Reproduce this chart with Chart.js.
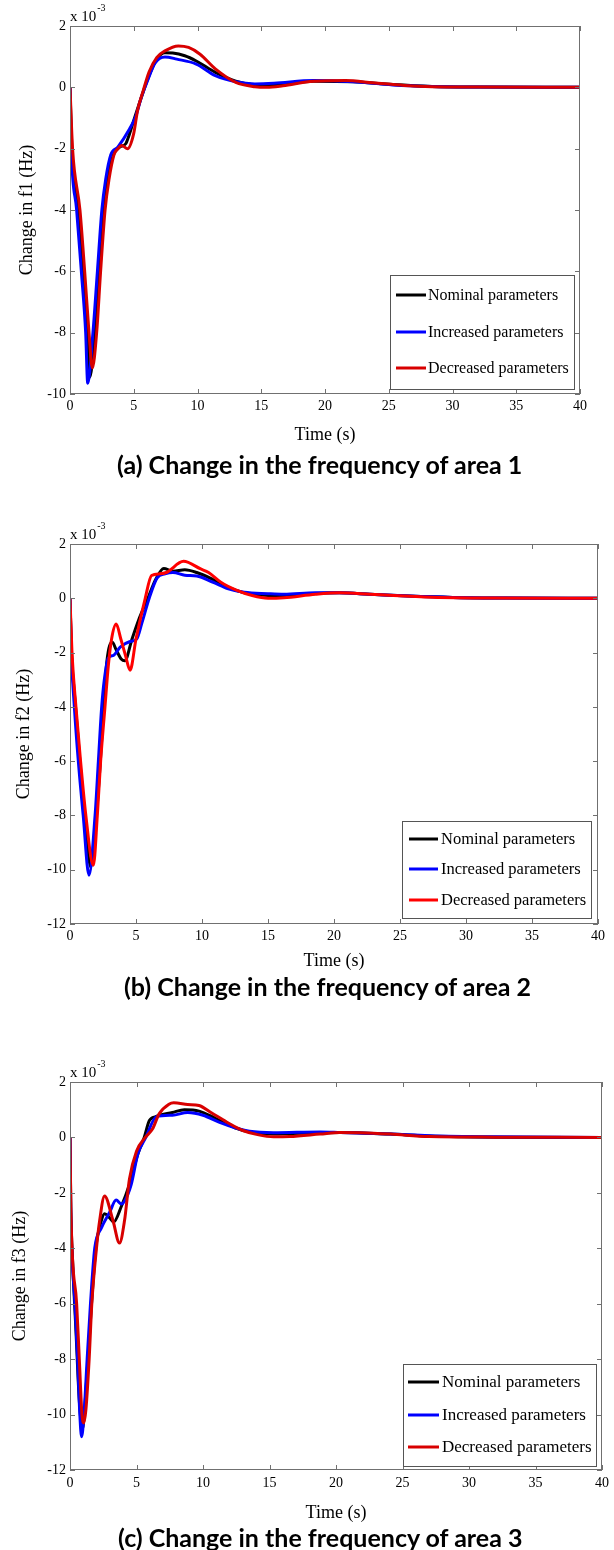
<!DOCTYPE html>
<html>
<head>
<meta charset="utf-8">
<script src="https://cdn.jsdelivr.net/npm/chart.js@4.4.1/dist/chart.umd.min.js"></script>
<style>
    body { margin: 0; background: #fff; }
    #page { position: relative; width: 614px; height: 1550px; }
    canvas { position: absolute; left: 0; }
    .caption {
        position: absolute;
        font-family: Lato, "Open Sans", sans-serif;
        font-weight: bold;
        font-size: 25px;
        line-height: 30px;
        color: #000;
        white-space: nowrap;
    }
</style>
</head>
<body>
<div id="page">
    <canvas id="chartA" width="614" height="452" style="top:0px"></canvas>
    <div class="caption" style="left:117px; top:449px">(a) Change in the frequency of area 1</div>

    <canvas id="chartB" width="614" height="480" style="top:500px"></canvas>
    <div class="caption" style="left:124px; top:971px">(b) Change in the frequency of area 2</div>

    <canvas id="chartC" width="614" height="495" style="top:1040px"></canvas>
    <div class="caption" style="left:118px; top:1522px">(c) Change in the frequency of area 3</div>
</div>

<script>
// Legend names and tick values
var seriesNames = ["Nominal parameters", "Increased parameters", "Decreased parameters"];
var timeTicks = [0, 5, 10, 15, 20, 25, 30, 35, 40];
var f1Ticks = [-10, -8, -6, -4, -2, 0, 2];
var f23Ticks = [-12, -10, -8, -6, -4, -2, 0, 2];

// Area 1 (values in 1e-3 Hz)
var tA_nom = [0, 0.15, 0.65, 1.02, 1.36, 1.55, 1.95, 2.3, 2.65, 2.95, 3.4, 3.9, 4.37, 4.6, 5.0, 5.6, 6.2, 6.8, 7.45, 8.06, 9.0, 9.9, 11.4, 13.0, 14.5, 16.0, 19.1, 22.2, 25.3, 28.4, 32, 40];
var fA_nom = [0, -2.0, -4.0, -6.0, -8.0, -9.45, -8.0, -6.0, -4.0, -3.0, -2.2, -1.95, -1.84, -1.6, -1.08, -0.32, 0.38, 0.92, 1.13, 1.12, 1.03, 0.86, 0.49, 0.2, 0.08, 0.07, 0.2, 0.18, 0.09, 0.03, 0.01, 0];
var tA_inc = [0, 0.1, 0.52, 0.89, 1.23, 1.39, 1.8, 2.15, 2.5, 2.8, 3.2, 3.75, 4.68, 5.14, 5.6, 6.06, 6.68, 7.45, 8.37, 9.9, 11.4, 13.0, 14.5, 16.0, 19.1, 22.2, 25.3, 28.4, 32, 40];
var fA_inc = [0, -2.0, -4.0, -6.0, -8.0, -9.65, -8.0, -6.0, -4.0, -3.0, -2.2, -1.95, -1.35, -0.97, -0.32, 0.2, 0.8, 0.99, 0.92, 0.76, 0.38, 0.18, 0.11, 0.13, 0.22, 0.18, 0.08, 0.03, 0.01, 0];
var tA_dec = [0, 0.2, 0.78, 1.15, 1.49, 1.75, 2.09, 2.4, 2.75, 3.06, 3.45, 3.76, 4.06, 4.52, 5.0, 5.3, 5.75, 6.2, 6.8, 7.45, 8.5, 9.3, 10.2, 11.4, 13.0, 14.5, 15.45, 16.7, 19.1, 21.6, 23.75, 26.2, 28.4, 32, 40];
var fA_dec = [0, -2.0, -4.0, -6.0, -8.0, -9.15, -8.0, -6.0, -4.0, -3.0, -2.2, -2.0, -1.9, -2.0, -1.5, -0.75, -0.1, 0.5, 0.97, 1.19, 1.35, 1.3, 1.08, 0.6, 0.16, 0.02, 0.0, 0.05, 0.2, 0.22, 0.15, 0.06, 0.02, 0.01, 0];

// Area 2
var tB_nom = [0, 0.12, 0.42, 0.75, 1.12, 1.57, 2.0, 2.3, 2.55, 2.8, 3.2, 3.5, 3.9, 4.15, 4.7, 5.2, 5.9, 6.5, 7.1, 7.8, 8.7, 9.6, 10.8, 12.0, 13.2, 15.0, 16.5, 18.6, 20.4, 22.7, 25.7, 29, 33, 40];
var fB_nom = [0, -2.0, -4.0, -6.0, -8.0, -9.9, -8.0, -6.0, -4.0, -2.3, -1.62, -1.9, -2.25, -2.3, -1.5, -0.8, 0, 0.7, 1.1, 1.0, 1.05, 0.95, 0.7, 0.4, 0.2, 0.1, 0.1, 0.18, 0.2, 0.15, 0.08, 0.03, 0.01, 0];
var tB_inc = [0, 0.1, 0.33, 0.63, 1.0, 1.44, 1.9, 2.15, 2.4, 2.6, 2.9, 3.3, 3.8, 4.5, 5.05, 5.45, 6.0, 6.6, 7.2, 7.8, 8.7, 9.6, 10.8, 12.0, 13.2, 15.0, 16.2, 18.6, 20.4, 22.7, 25.7, 29, 33, 40];
var fB_inc = [0, -2.0, -4.0, -6.0, -8.0, -10.2, -8.0, -6.0, -4.0, -3.0, -2.2, -2.1, -1.8, -1.6, -1.5, -0.9, 0, 0.75, 0.9, 0.95, 0.85, 0.82, 0.6, 0.35, 0.22, 0.17, 0.15, 0.2, 0.2, 0.15, 0.08, 0.03, 0.01, 0];
var tB_dec = [0, 0.15, 0.45, 0.8, 1.2, 1.77, 2.07, 2.32, 2.65, 2.9, 3.15, 3.5, 3.85, 4.2, 4.55, 5.0, 5.7, 6.18, 6.8, 7.3, 8.6, 9.9, 10.5, 11.4, 12.6, 13.8, 15.0, 16.2, 18.6, 20.4, 22.7, 24.5, 27.5, 32, 40];
var fB_dec = [0, -2.0, -4.0, -6.0, -8.0, -9.84, -8.0, -6.0, -4.0, -2.5, -1.5, -0.95, -1.5, -2.1, -2.65, -1.5, 0, 0.84, 0.9, 0.95, 1.36, 1.08, 0.95, 0.6, 0.3, 0.1, 0.0, 0.02, 0.15, 0.2, 0.15, 0.1, 0.04, 0.01, 0];

// Area 3
var tC_nom = [0, 0.06, 0.2, 0.45, 0.7, 0.94, 1.1, 1.35, 1.62, 1.94, 2.36, 2.6, 2.98, 3.28, 3.85, 4.47, 5.1, 5.58, 5.96, 6.45, 7.7, 8.6, 9.7, 10.9, 12.4, 13.5, 15.3, 18.8, 20.3, 24.1, 27, 32, 40];
var fC_nom = [0, -2.5, -4.5, -7.0, -9.5, -10.5, -9.8, -8.0, -6.0, -4.0, -3.0, -2.75, -2.9, -3.05, -2.5, -1.7, -0.6, 0, 0.6, 0.75, 0.9, 1.0, 0.95, 0.7, 0.35, 0.2, 0.12, 0.17, 0.18, 0.12, 0.05, 0.01, 0];
var tC_inc = [0, 0.05, 0.12, 0.37, 0.57, 0.74, 0.87, 1.05, 1.29, 1.54, 1.86, 2.36, 2.98, 3.47, 3.85, 4.1, 4.6, 5.1, 5.7, 6.5, 7.7, 8.85, 10.0, 11.2, 12.4, 13.5, 15.3, 18.8, 20.3, 24.1, 27, 32, 40];
var fC_inc = [0, -2.5, -3.9, -6.0, -8.0, -10.0, -10.8, -10.0, -8.0, -6.0, -4.0, -3.27, -2.7, -2.26, -2.4, -2.3, -1.7, -0.6, 0, 0.75, 0.8, 0.9, 0.8, 0.55, 0.35, 0.22, 0.17, 0.2, 0.18, 0.12, 0.06, 0.02, 0];
var tC_dec = [0, 0.07, 0.5, 0.7, 0.9, 1.04, 1.2, 1.44, 1.64, 1.99, 2.23, 2.6, 3.23, 3.72, 4.1, 4.47, 5.0, 5.66, 6.2, 6.7, 7.44, 7.8, 8.85, 9.7, 10.6, 11.8, 13.0, 14.1, 15.3, 16.5, 18.8, 20.3, 21.8, 24.1, 27, 32, 40];
var fC_dec = [0, -2.7, -6.0, -8.0, -10.0, -10.3, -9.8, -8.0, -6.0, -4.0, -3.0, -2.11, -3.0, -3.81, -3.0, -1.5, -0.5, 0, 0.3, 0.85, 1.2, 1.25, 1.19, 1.15, 0.9, 0.55, 0.25, 0.1, 0.02, 0.03, 0.12, 0.18, 0.17, 0.12, 0.03, 0.01, 0];

var serif = "'Liberation Serif', 'Times New Roman', serif";

function toPoints(ts, ys) {
    return ts.map(function (t, i) { return { x: t, y: ys[i] }; });
}

// MATLAB style box with inward ticks
var matlabBox = {
    id: "matlabBox",
    afterDraw: function (chart) {
        var ctx = chart.ctx;
        var a = chart.chartArea;
        var xs = chart.scales.x;
        var ys = chart.scales.y;
        var L = 5;
        ctx.save();
        ctx.strokeStyle = "#707070";
        ctx.lineWidth = 1;
        ctx.strokeRect(a.left + 0.5, a.top + 0.5, a.right - a.left - 1, a.bottom - a.top - 1);
        ctx.beginPath();
        xs.ticks.forEach(function (t) {
            var px = Math.round(xs.getPixelForValue(t.value)) + 0.5;
            ctx.moveTo(px, a.bottom);
            ctx.lineTo(px, a.bottom - L);
            ctx.moveTo(px, a.top);
            ctx.lineTo(px, a.top + L);
        });
        ys.ticks.forEach(function (t) {
            var py = Math.round(ys.getPixelForValue(t.value)) + 0.5;
            ctx.moveTo(a.left, py);
            ctx.lineTo(a.left + L, py);
            ctx.moveTo(a.right, py);
            ctx.lineTo(a.right - L, py);
        });
        ctx.stroke();
        ctx.restore();
    }
};

// "x 10^-3" multiplier above the y axis
var expLabel = {
    id: "expLabel",
    afterDraw: function (chart) {
        var ctx = chart.ctx;
        var a = chart.chartArea;
        ctx.save();
        ctx.fillStyle = "#000";
        ctx.textBaseline = "alphabetic";
        ctx.textAlign = "left";
        ctx.font = "15px " + serif;
        ctx.fillText("x 10", a.left, a.top - 5);
        var w = ctx.measureText("x 10").width;
        ctx.font = "10px " + serif;
        ctx.fillText("-3", a.left + w + 1, a.top - 15);
        ctx.restore();
    }
};

// boxed legend in the lower right corner
var boxLegend = {
    id: "boxLegend",
    afterDraw: function (chart, args, opts) {
        var ctx = chart.ctx;
        var a = chart.chartArea;
        var left = a.right - opts.gapRight - opts.width;
        var top = a.bottom - opts.gapBottom - opts.height;
        ctx.save();
        ctx.fillStyle = "#fff";
        ctx.fillRect(left, top, opts.width, opts.height);
        ctx.strokeStyle = "#555";
        ctx.lineWidth = 1;
        ctx.strokeRect(left + 0.5, top + 0.5, opts.width, opts.height);
        ctx.font = opts.fontSize + "px " + serif;
        ctx.textBaseline = "middle";
        ctx.textAlign = "left";
        chart.data.datasets.forEach(function (ds, i) {
            var y = top + opts.rows[i];
            ctx.strokeStyle = ds.borderColor;
            ctx.lineWidth = 3;
            ctx.beginPath();
            ctx.moveTo(left + opts.lineFrom, y);
            ctx.lineTo(left + opts.lineTo, y);
            ctx.stroke();
            ctx.fillStyle = "#000";
            ctx.fillText(ds.label, left + opts.textX, y + 1);
        });
        ctx.restore();
    }
};

function makeChart(id, s) {
    return new Chart(id, {
        type: "line",
        data: {
            datasets: [{
                label: seriesNames[0],
                data: toPoints(s.t[0], s.f[0]),
                borderColor: "#000000",
                order: 2
            }, {
                label: seriesNames[1],
                data: toPoints(s.t[1], s.f[1]),
                borderColor: "#0000ff",
                order: 1
            }, {
                label: seriesNames[2],
                data: toPoints(s.t[2], s.f[2]),
                borderColor: s.red,
                order: 0
            }]
        },
        options: {
            responsive: false,
            animation: false,
            devicePixelRatio: 1,
            elements: {
                line: { borderWidth: 3, fill: false, cubicInterpolationMode: "monotone" },
                point: { radius: 0, hoverRadius: 0 }
            },
            layout: { padding: { top: s.padTop, right: s.padRight, left: 0, bottom: 0 } },
            scales: {
                x: {
                    type: "linear",
                    min: 0,
                    max: 40,
                    afterBuildTicks: function (scale) {
                        scale.ticks = timeTicks.map(function (v) { return { value: v }; });
                    },
                    afterFit: function (scale) { scale.height = s.xAxisH; },
                    grid: { display: false, drawTicks: false },
                    border: { display: false },
                    ticks: {
                        autoSkip: false,
                        maxRotation: 0,
                        padding: s.xTickPad,
                        color: "#000",
                        font: { family: serif, size: 14 }
                    },
                    title: {
                        display: true,
                        text: "Time (s)",
                        color: "#000",
                        font: { family: serif, size: 18 },
                        padding: { top: 0, bottom: s.xTitlePad }
                    }
                },
                y: {
                    type: "linear",
                    min: s.yTicks[0],
                    max: 2,
                    afterBuildTicks: function (scale) {
                        scale.ticks = s.yTicks.map(function (v) { return { value: v }; });
                    },
                    afterFit: function (scale) { scale.width = 70; },
                    grid: { display: false, drawTicks: false },
                    border: { display: false },
                    ticks: {
                        autoSkip: false,
                        padding: 4,
                        color: "#000",
                        font: { family: serif, size: 14 }
                    },
                    title: {
                        display: true,
                        text: s.yTitle,
                        color: "#000",
                        font: { family: serif, size: 18 },
                        padding: { top: s.yTitlePad, bottom: 0 }
                    }
                }
            },
            plugins: {
                legend: { display: false },
                tooltip: { enabled: false },
                boxLegend: s.legend
            }
        },
        plugins: [matlabBox, expLabel, boxLegend]
    });
}

// Area 1
makeChart("chartA", {
    t: [tA_nom, tA_inc, tA_dec],
    f: [fA_nom, fA_inc, fA_dec],
    red: "#d80000",
    yTicks: f1Ticks,
    yTitle: "Change in f1 (Hz)",
    padTop: 26, padRight: 34, xAxisH: 58, xTickPad: 4, xTitlePad: 6, yTitlePad: 16,
    legend: { width: 184, height: 114, gapRight: 6, gapBottom: 5, rows: [20, 57, 93], lineFrom: 6, lineTo: 36, textX: 38, fontSize: 16 }
});

// Area 2
makeChart("chartB", {
    t: [tB_nom, tB_inc, tB_dec],
    f: [fB_nom, fB_inc, fB_dec],
    red: "#ff0000",
    yTicks: f23Ticks,
    yTitle: "Change in f2 (Hz)",
    padTop: 44, padRight: 16, xAxisH: 56, xTickPad: 4, xTitlePad: 8, yTitlePad: 13,
    legend: { width: 189, height: 97, gapRight: 7, gapBottom: 6, rows: [18, 48, 79], lineFrom: 7, lineTo: 36, textX: 39, fontSize: 16.5 }
});

// Area 3
makeChart("chartC", {
    t: [tC_nom, tC_inc, tC_dec],
    f: [fC_nom, fC_inc, fC_dec],
    red: "#d80000",
    yTicks: f23Ticks,
    yTitle: "Change in f3 (Hz)",
    padTop: 42, padRight: 7, xAxisH: 65, xTickPad: 5, xTitlePad: 11, yTitlePad: 9,
    legend: { width: 193, height: 102, gapRight: 6, gapBottom: 4, rows: [18, 51, 83], lineFrom: 5, lineTo: 36, textX: 39, fontSize: 17 }
});
</script>
</body>
</html>
